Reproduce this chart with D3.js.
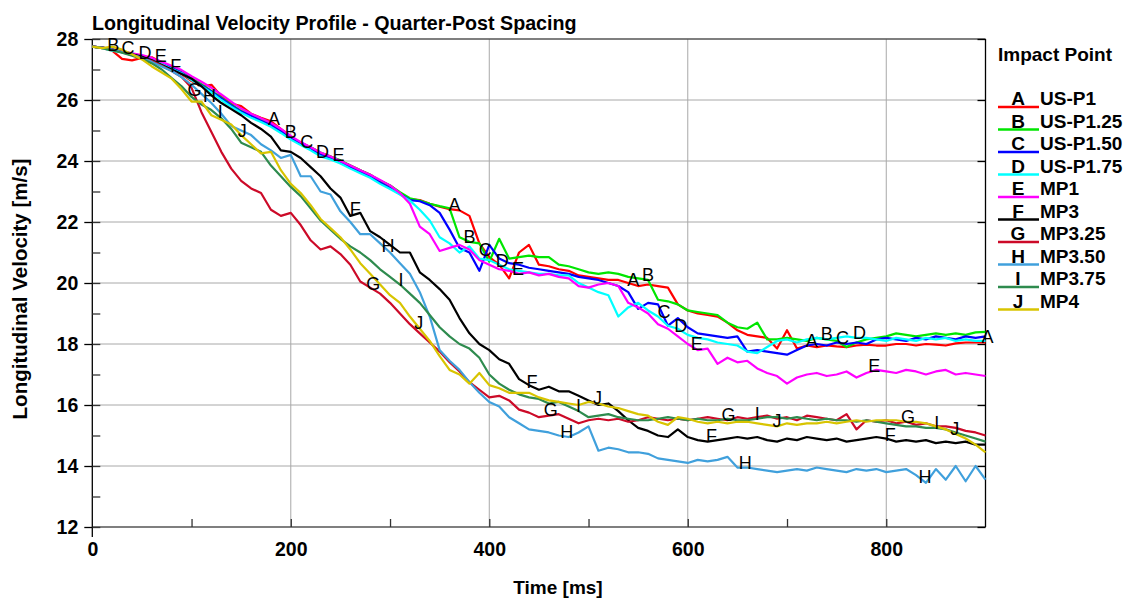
<!DOCTYPE html>
<html><head><meta charset="utf-8">
<script src="https://cdn.jsdelivr.net/npm/d3@7"></script>
<style>
body{margin:0;background:#fff;}
text{font-family:"Liberation Sans",Arial,sans-serif;}
</style></head>
<body><svg id="c" width="1126" height="599"></svg>
<script>
const time = d3.range(0, 901, 10);
const seriesNames = ["US-P1","US-P1.25","US-P1.50","US-P1.75","MP1","MP3","MP3.25","MP3.50","MP3.75","MP4"];
const seriesLetters = ["A","B","C","D","E","F","G","H","I","J"];
const seriesColors = ["#ff0000","#00e600","#0000ff","#00ffff","#ff00ff","#000000","#cc0a28","#40a0dc","#2e8b4e","#d8c400"];
const xTicks = [0,200,400,600,800];
const yTicks = [12,14,16,18,20,22,24,26,28];

const vA = [27.75,27.7,27.62,27.35,27.3,27.38,27.4,27.22,27.02,26.85,
 26.62,26.45,26.5,26.12,25.88,25.8,25.55,25.42,25.3,25.05,
 24.8,24.6,24.45,24.25,24.15,24.0,23.85,23.7,23.55,23.35,
 23.2,22.95,22.75,22.72,22.6,22.5,22.42,22.38,22.2,21.3,
 20.85,20.6,20.15,21.0,21.25,20.6,20.55,20.45,20.4,20.25,
 20.2,20.15,20.1,20.1,20.0,19.9,19.95,19.9,19.85,19.3,
 19.1,19.0,18.95,18.9,18.7,18.45,18.3,18.25,18.2,17.85,
 18.45,17.85,17.95,17.9,17.95,17.92,17.9,17.95,17.98,17.95,
 17.95,18.0,18.0,17.95,18.0,17.98,17.95,18.02,18.05,18.05,
 18.05];
const vB = [27.75,27.72,27.66,27.6,27.52,27.45,27.35,27.22,27.08,26.92,
 26.72,26.52,26.3,26.08,25.85,25.65,25.5,25.38,25.22,25.0,
 24.78,24.6,24.45,24.28,24.15,24.02,23.85,23.7,23.55,23.35,
 23.2,22.98,22.78,22.7,22.6,22.52,22.45,21.5,21.35,21.3,
 20.7,21.45,20.8,20.85,20.9,20.85,20.85,20.6,20.55,20.45,
 20.35,20.3,20.35,20.3,20.2,20.15,20.1,19.45,19.4,19.3,
 19.1,19.05,19.0,18.95,18.7,18.55,18.5,18.7,18.15,18.15,
 18.2,18.15,18.1,18.2,18.15,18.1,17.9,18.05,18.15,18.2,
 18.25,18.35,18.3,18.25,18.3,18.35,18.3,18.35,18.3,18.38,
 18.4];
const vC = [27.75,27.72,27.65,27.58,27.5,27.42,27.32,27.2,27.05,26.9,
 26.68,26.48,26.28,26.05,25.82,25.62,25.48,25.32,25.18,24.98,
 24.75,24.55,24.4,24.2,24.1,23.95,23.8,23.65,23.5,23.3,
 23.12,22.92,22.72,22.68,22.55,22.3,21.75,21.15,21.0,20.4,
 21.25,20.8,20.65,20.6,20.5,20.45,20.4,20.35,20.3,20.2,
 20.15,20.1,20.0,19.9,19.7,19.15,19.35,19.3,18.6,18.85,
 18.55,18.35,18.3,18.25,18.2,18.25,17.75,17.8,17.75,17.7,
 17.65,17.8,17.95,18.0,17.95,18.05,18.0,18.05,18.0,18.15,
 18.2,18.15,18.1,18.2,18.15,18.25,18.2,18.15,18.25,18.2,
 18.25];
const vD = [27.75,27.7,27.62,27.56,27.48,27.4,27.3,27.18,27.02,26.88,
 26.65,26.45,26.25,26.0,25.78,25.58,25.42,25.28,25.12,24.92,
 24.7,24.52,24.35,24.15,24.05,23.92,23.75,23.6,23.45,23.25,
 23.08,22.9,22.7,22.4,22.05,21.5,21.3,21.0,21.2,20.8,
 20.75,20.6,20.45,20.4,20.35,20.3,20.3,20.25,20.25,20.0,
 19.85,19.7,19.6,18.9,19.2,19.35,19.1,18.9,18.6,18.5,
 18.3,18.2,18.15,18.05,18.0,17.95,17.75,17.7,17.9,18.1,
 18.15,18.05,18.15,18.2,18.15,18.2,18.25,18.2,18.2,18.15,
 18.1,18.2,18.15,18.1,18.2,18.15,18.2,18.1,18.15,18.1,
 18.1];
const vE = [27.75,27.72,27.66,27.6,27.53,27.47,27.38,27.25,27.12,26.98,
 26.78,26.6,26.4,26.18,25.95,25.72,25.55,25.4,25.25,25.05,
 24.82,24.62,24.45,24.28,24.15,24.0,23.85,23.7,23.55,23.38,
 23.2,22.95,22.6,21.85,21.6,21.05,21.15,21.25,21.1,20.75,
 20.6,20.45,20.4,20.3,20.35,20.25,20.3,20.2,20.15,19.9,
 19.85,19.95,20.0,19.9,19.35,19.2,19.0,18.65,18.5,18.25,
 18.0,17.8,17.85,17.35,17.55,17.4,17.45,17.2,17.05,16.95,
 16.7,16.9,17.0,17.05,16.95,17.0,17.1,16.9,17.05,17.15,
 17.1,17.05,17.15,17.1,17.0,17.1,17.15,17.0,17.05,17.0,
 16.95];
const vF = [27.75,27.72,27.65,27.58,27.5,27.42,27.3,27.15,27.0,26.85,
 26.7,26.45,26.15,25.9,25.7,25.5,25.25,25.05,24.8,24.35,
 24.3,24.1,23.8,23.5,23.1,22.8,22.2,22.3,21.7,21.5,
 21.25,21.0,21.0,20.35,20.1,19.8,19.45,18.85,18.35,18.0,
 17.8,17.5,17.35,16.85,16.65,16.5,16.6,16.45,16.45,16.3,
 16.15,16.0,16.05,15.8,15.5,15.25,15.15,15.0,14.95,15.2,
 14.95,14.85,14.8,14.85,14.9,14.95,14.9,14.95,14.85,14.8,
 14.9,14.85,14.95,14.9,14.85,14.9,14.8,14.85,14.9,14.95,
 14.9,14.8,14.85,14.8,14.85,14.75,14.8,14.75,14.8,14.7,
 14.7];
const vG = [27.75,27.72,27.65,27.57,27.48,27.38,27.28,27.12,26.95,26.75,
 26.4,25.6,24.95,24.3,23.75,23.35,23.1,22.95,22.4,22.2,
 22.3,21.9,21.4,21.1,21.2,20.95,20.6,20.05,19.85,19.65,
 19.35,19.0,18.65,18.35,18.05,17.75,17.4,17.1,16.75,16.5,
 16.25,16.3,16.15,15.85,15.75,15.6,15.65,15.7,15.55,15.4,
 15.5,15.55,15.5,15.55,15.45,15.5,15.6,15.55,15.5,15.55,
 15.5,15.55,15.6,15.55,15.5,15.6,15.55,15.6,15.65,15.55,
 15.6,15.5,15.65,15.6,15.55,15.5,15.7,15.2,15.5,15.45,
 15.5,15.4,15.45,15.35,15.4,15.3,15.3,15.25,15.15,15.1,
 15.0];
const vH = [27.75,27.72,27.65,27.57,27.48,27.38,27.25,27.1,26.95,26.75,
 26.5,26.2,25.9,25.55,25.15,25.0,24.85,24.55,24.35,24.1,
 24.2,23.5,23.5,23.0,22.9,22.35,22.0,21.6,21.6,21.3,
 21.0,20.65,20.3,19.7,18.9,17.8,17.45,17.15,16.75,16.4,
 16.1,15.95,15.6,15.4,15.2,15.15,15.1,15.0,14.95,15.1,
 15.3,14.5,14.6,14.55,14.45,14.45,14.4,14.25,14.2,14.15,
 14.1,14.2,14.15,14.2,14.3,13.95,13.95,13.9,13.85,13.8,
 13.85,13.9,13.85,13.95,13.9,13.85,13.8,13.9,13.85,13.9,
 13.8,13.85,13.9,13.7,13.45,13.9,13.55,14.0,13.5,14.0,
 13.55];
const vI = [27.75,27.7,27.63,27.55,27.45,27.35,27.2,27.0,26.72,26.45,
 26.1,25.85,25.67,25.4,25.05,24.6,24.45,24.3,23.85,23.5,
 23.15,22.85,22.45,22.05,21.75,21.45,21.2,21.0,20.75,20.45,
 20.2,19.95,19.65,19.35,18.95,18.55,18.25,18.0,17.85,17.55,
 17.0,16.7,16.5,16.35,16.25,16.2,16.05,16.1,15.95,15.8,
 15.6,15.65,15.7,15.6,15.55,15.5,15.5,15.55,15.6,15.55,
 15.5,15.55,15.5,15.5,15.55,15.5,15.5,15.55,15.6,15.6,
 15.55,15.6,15.55,15.5,15.55,15.5,15.5,15.45,15.5,15.45,
 15.4,15.35,15.3,15.3,15.25,15.25,15.2,15.1,15.0,14.9,
 14.8];
const vJ = [27.75,27.7,27.75,27.65,27.5,27.33,27.1,26.9,26.7,26.35,
 25.95,25.95,25.5,25.35,25.2,24.85,24.55,24.25,24.3,23.7,
 23.25,22.95,22.55,22.1,21.8,21.5,21.1,20.65,20.3,19.95,
 19.6,19.35,18.9,18.5,18.1,17.6,17.15,17.0,16.7,17.05,
 16.65,16.55,16.4,16.4,16.4,16.25,16.15,16.1,16.05,16.0,
 16.1,16.05,15.95,15.9,15.8,15.7,15.65,15.45,15.35,15.6,
 15.55,15.45,15.4,15.45,15.4,15.45,15.45,15.4,15.35,15.3,
 15.4,15.35,15.4,15.4,15.45,15.4,15.45,15.5,15.45,15.5,
 15.5,15.5,15.45,15.45,15.4,15.3,15.2,15.05,14.9,14.7,
 14.45];
const seriesValues = [vA,vB,vC,vD,vE,vF,vG,vH,vI,vJ];
// times (ms) at which each curve's letter tag is printed
const labelTimes = [
 [183,365,545,725,902],
 [21,200,380,560,740],
 [36,216,396,576,756],
 [53,232,413,593,773],
 [69,248,429,609,788],
 [84,265,443,624,804],
 [103,283,462,641,822],
 [118,298,478,658,839],
 [129,311,490,670,851],
 [151,329,509,690,869]];

const svg = d3.select("#c");
const x = d3.scaleLinear().domain([0,900]).range([92.3,985.5]);
const y = d3.scaleLinear().domain([12,28]).range([527,39]);
const FS = 19;

// grid
const g = svg.append("g");
g.selectAll(".vg").data(xTicks.filter(d=>d>0)).join("line")
 .attr("x1",d=>x(d)).attr("x2",d=>x(d)).attr("y1",y(12)).attr("y2",y(28))
 .attr("stroke","#a8a8a8").attr("stroke-width",1);
g.selectAll(".hg").data(yTicks.filter(d=>d>12&&d<28)).join("line")
 .attr("x1",x(0)).attr("x2",x(900)).attr("y1",d=>y(d)).attr("y2",d=>y(d))
 .attr("stroke","#a8a8a8").attr("stroke-width",1);

// frame
svg.append("line").attr("x1",x(0)).attr("x2",x(900)).attr("y1",y(28)).attr("y2",y(28)).attr("stroke","#555").attr("stroke-width",1.3);
svg.append("line").attr("x1",x(0)).attr("x2",x(900)).attr("y1",y(12)).attr("y2",y(12)).attr("stroke","#555").attr("stroke-width",1.3);
svg.append("line").attr("x1",x(900)).attr("x2",x(900)).attr("y1",y(28)).attr("y2",y(12)).attr("stroke","#000").attr("stroke-width",1.3);
svg.append("line").attr("x1",x(0)).attr("x2",x(0)).attr("y1",y(28)).attr("y2",y(12)+10).attr("stroke","#000").attr("stroke-width",1.3);

// ticks
const inner = d3.range(12,29,1);
svg.append("g").attr("transform",`translate(${x(0)},0)`)
 .call(d3.axisRight(y).tickValues(inner).tickSize(8).tickFormat(""))
 .call(a=>{a.select(".domain").remove();a.selectAll("line").attr("stroke","#333").attr("stroke-width",1.3);});
svg.append("g").attr("transform",`translate(${x(900)},0)`)
 .call(d3.axisLeft(y).tickValues(yTicks).tickSize(8).tickFormat(""))
 .call(a=>{a.select(".domain").remove();a.selectAll("line").attr("stroke","#000").attr("stroke-width",1.3);});
svg.append("g").attr("transform",`translate(0,${y(12)})`)
 .call(d3.axisTop(x).tickValues(d3.range(100,900,100)).tickSize(8).tickFormat(""))
 .call(a=>{a.select(".domain").remove();a.selectAll("line").attr("stroke","#333").attr("stroke-width",1.3);});
const yax = svg.append("g").attr("transform",`translate(${x(0)},0)`)
 .call(d3.axisLeft(y).tickValues(yTicks).tickSize(8).tickPadding(6));
yax.select(".domain").remove();
yax.selectAll("line").attr("stroke","#000").attr("stroke-width",1.3);
yax.selectAll("text").attr("font-size",19.5).attr("font-weight","bold").attr("fill","#000").attr("font-family","Liberation Sans, Arial, sans-serif");
const xax = svg.append("g").attr("transform",`translate(0,${y(12)})`)
 .call(d3.axisBottom(x).tickValues(xTicks).tickSize(0).tickPadding(15));
xax.select(".domain").remove();
xax.selectAll("text").attr("font-size",19.5).attr("font-weight","bold").attr("fill","#000").attr("font-family","Liberation Sans, Arial, sans-serif");

// lines
const line = d3.line().x((d,i)=>x(time[i])).y(d=>y(d));
seriesValues.forEach((vals,k)=>{
  svg.append("path").datum(vals).attr("d",line).attr("fill","none")
   .attr("stroke",seriesColors[k]).attr("stroke-width",2.2).attr("stroke-linejoin","round");
});

// curve letter tags
function valueAt(vals,t){
  const tt = Math.max(0,Math.min(900,t));
  const i = Math.min(time.length-2, Math.floor(tt/10));
  const f = (tt-time[i])/(time[i+1]-time[i]);
  return vals[i]+(vals[i+1]-vals[i])*f;
}
labelTimes.forEach((ts,k)=>{
  ts.forEach(t=>{
    svg.append("text").attr("x",x(t)).attr("y",y(valueAt(seriesValues[k],t))+1)
     .attr("text-anchor","middle").attr("font-size",18).attr("fill","#000")
     .text(seriesLetters[k]);
  });
});

// titles
svg.append("text").attr("x",92).attr("y",30).attr("font-size",19.7).attr("font-weight","bold")
 .text("Longitudinal Velocity Profile - Quarter-Post Spacing");
svg.append("text").attr("x",558).attr("y",594).attr("text-anchor","middle").attr("font-size",FS).attr("font-weight","bold").text("Time [ms]");
svg.append("text").attr("transform",`translate(27,289) rotate(-90)`).attr("text-anchor","middle")
 .attr("font-size",20.5).attr("font-weight","bold").text("Longitudinal Velocity [m/s]");

// legend
const lg = svg.append("g");
lg.append("text").attr("x",998).attr("y",61).attr("font-size",FS).attr("font-weight","bold").text("Impact Point");
seriesNames.forEach((n,k)=>{
  const by = 105 + k*22.5;
  lg.append("line").attr("x1",998).attr("x2",1039).attr("y1",by+2).attr("y2",by+2)
   .attr("stroke",seriesColors[k]).attr("stroke-width",2.5);
  lg.append("text").attr("x",1018).attr("y",by).attr("text-anchor","middle").attr("font-size",FS).attr("font-weight","bold").text(seriesLetters[k]);
  lg.append("text").attr("x",1040).attr("y",by).attr("font-size",FS).attr("font-weight","bold").text(n);
});
</script></body></html>
